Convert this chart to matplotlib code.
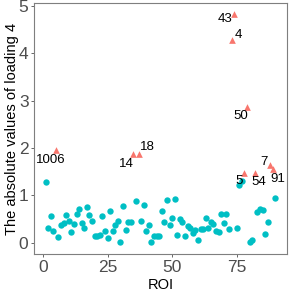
import numpy as np
import matplotlib
matplotlib.use("Agg")
import matplotlib.pyplot as plt

plt.rcParams['font.family'] = ['Liberation Sans', 'DejaVu Sans']

# absolute loading 4 values for each ROI (1..90)
roi = list(range(1, 91))
loading = [1.27, 0.30, 0.57, 0.25, 1.965, 0.12, 0.37, 0.42, 0.58, 0.45,
           0.23, 0.39, 0.61, 0.71, 0.42, 0.32, 0.76, 0.59, 0.45, 0.15,
           0.15, 0.16, 0.57, 0.25, 0.09, 0.67, 0.24, 0.38, 0.45, 0.01,
           0.77, 0.27, 0.43, 0.43, 1.87, 0.88, 1.87, 0.45, 0.80, 0.25,
           0.37, 0.02, 0.15, 0.15, 0.15, 0.67, 0.43, 0.90, 0.37, 0.53,
           0.92, 0.17, 0.51, 0.44, 0.15, 0.35, 0.30, 0.21, 0.26, 0.05,
           0.28, 0.29, 0.52, 0.30, 0.43, 0.40, 0.24, 0.23, 0.61, 0.41,
           0.61, 0.28, 4.28, 4.82, 0.32, 1.22, 1.31, 1.47, 2.87, 0.02,
           0.05, 1.48, 0.64, 0.71, 0.68, 0.18, 0.43, 1.63, 1.56, 0.94]

# highlighted ROIs and their text labels
top_roi = [5, 35, 37, 73, 74, 78, 79, 82, 88, 89]
top_label = ['1006', '14', '18', '4', '43', '5', '50', '54', '7', '91']

# where the repelled labels ended up (data units offsets)
label_offset = {'1006': (-1.8, -0.22), '14': (-2.7, -0.21), '18': (3.6, 0.14),
                '4': (2.6, 0.11), '43': (-3.6, -0.11), '5': (-2.2, -0.17),
                '50': (-2.3, -0.20), '54': (1.7, -0.21), '7': (-2.4, 0.08),
                '91': (1.8, -0.21)}

teal = '#00BFC4'
salmon = '#F8766D'
tick_grey = '#4D4D4D'

roi = np.array(roi)
loading = np.array(loading)
is_top = np.isin(roi, top_roi)

fig = plt.figure(figsize=(2.91, 2.91), dpi=100)
ax = fig.add_axes([0.117, 0.127, 0.869, 0.863])

ax.scatter(roi[~is_top], loading[~is_top], s=21, color=teal, marker='o',
           linewidths=0, zorder=3)
ax.scatter(roi[is_top], loading[is_top], s=23, color=salmon, marker='^',
           linewidths=0, zorder=3)

for r, lab in zip(top_roi, top_label):
    dx, dy = label_offset[lab]
    ax.text(r + dx, loading[r - 1] + dy, lab, fontsize=9.5, color='black',
            ha='center', va='center', zorder=4)

ax.set_xlim(-3.45, 94.45)
ax.set_ylim(-0.24, 5.06)
ax.set_xticks([0, 25, 50, 75])
ax.set_yticks([0, 1, 2, 3, 4, 5])
ax.tick_params(axis='both', colors=tick_grey, labelsize=12.5, length=2.5,
               width=0.6, pad=1.5)
for sp in ax.spines.values():
    sp.set_color('#7F7F7F')
    sp.set_linewidth(0.8)

ax.set_xlabel('ROI', fontsize=10.5, labelpad=2.5)
ax.set_ylabel('The absolute values of loading 4', fontsize=10.5, labelpad=0)

fig.savefig('out.png', dpi=100)
